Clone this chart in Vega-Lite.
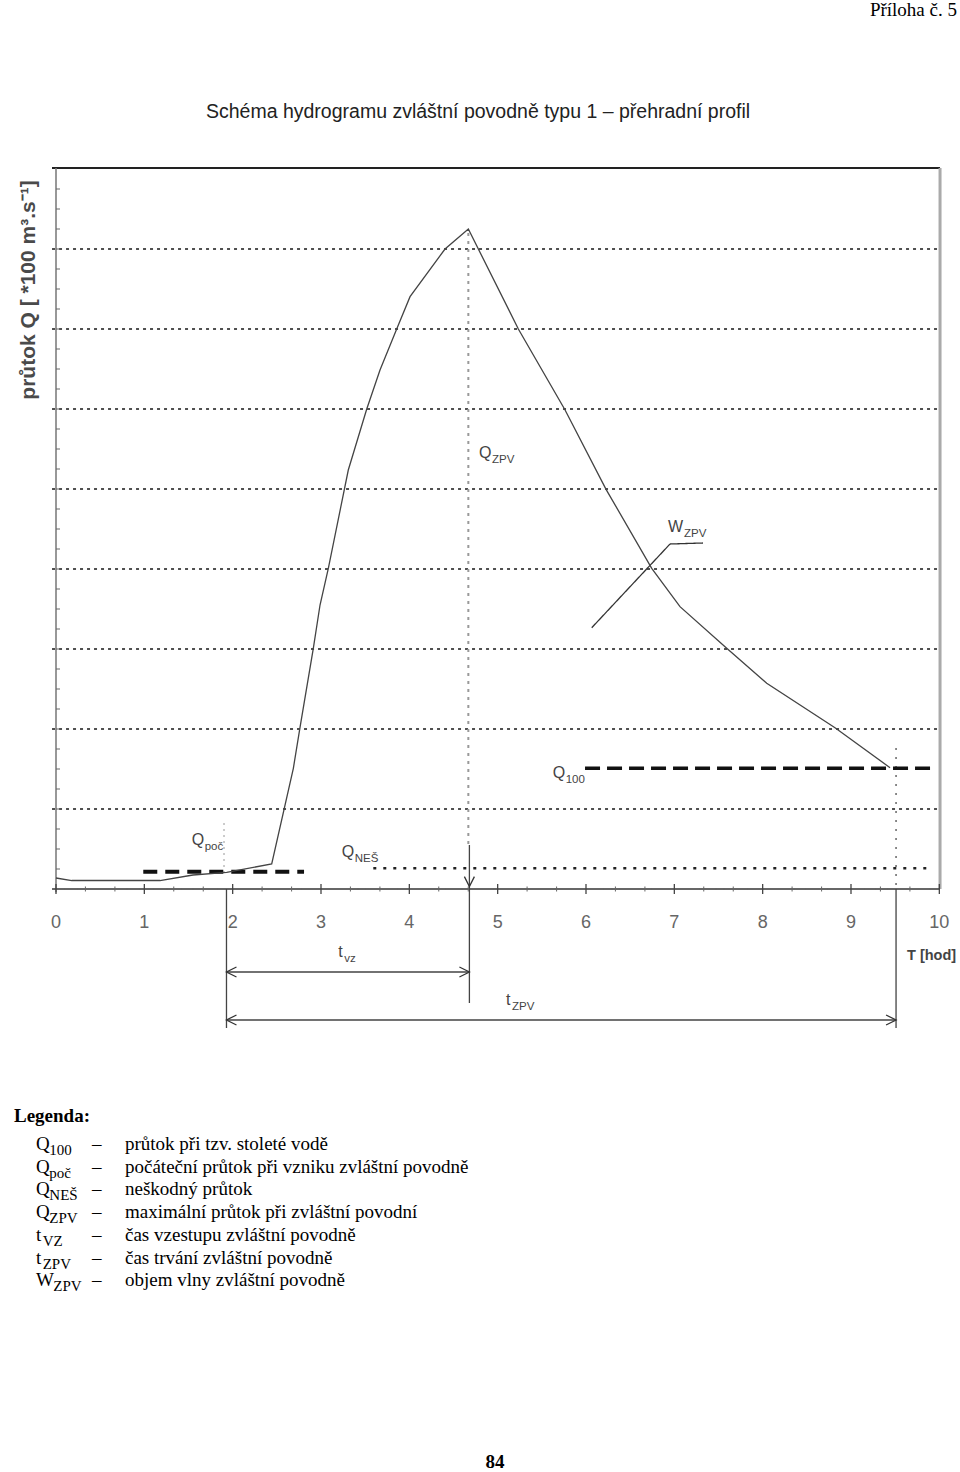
{
  "$schema": "https://vega.github.io/schema/vega-lite/v6.json",
  "width": 960,
  "height": 1472,
  "autosize": {"type": "fit", "contains": "padding"},
  "padding": 0,
  "background": "white",
  "config": {"view": {"stroke": null}},
  "datasets": {
    "hydro": [
      {"t": 0, "q": 0.1375}, {"t": 0.178, "q": 0.106}, {"t": 1.177, "q": 0.106},
      {"t": 1.551, "q": 0.175}, {"t": 1.932, "q": 0.209}, {"t": 2.442, "q": 0.3125},
      {"t": 2.687, "q": 1.509}, {"t": 2.762, "q": 2.016}, {"t": 2.913, "q": 3.009},
      {"t": 2.989, "q": 3.55}, {"t": 3.083, "q": 4.009}, {"t": 3.309, "q": 5.2375},
      {"t": 3.517, "q": 5.996}, {"t": 3.668, "q": 6.4875}, {"t": 3.857, "q": 7.0},
      {"t": 4.008, "q": 7.404}, {"t": 4.404, "q": 8.0}, {"t": 4.668, "q": 8.25},
      {"t": 5.234, "q": 7.0}, {"t": 5.763, "q": 5.9875}, {"t": 6.227, "q": 4.996},
      {"t": 6.744, "q": 4.009}, {"t": 7.064, "q": 3.529}, {"t": 7.593, "q": 3.009},
      {"t": 8.046, "q": 2.571}, {"t": 8.819, "q": 2.016}, {"t": 9.442, "q": 1.516}
    ],
    "segments": [
      {"kind": "grid", "t0": -0.045, "q0": 1, "t1": 9.99, "q1": 1},
      {"kind": "grid", "t0": -0.045, "q0": 2, "t1": 9.99, "q1": 2},
      {"kind": "grid", "t0": -0.045, "q0": 3, "t1": 9.99, "q1": 3},
      {"kind": "grid", "t0": -0.045, "q0": 4, "t1": 9.99, "q1": 4},
      {"kind": "grid", "t0": -0.045, "q0": 5, "t1": 9.99, "q1": 5},
      {"kind": "grid", "t0": -0.045, "q0": 6, "t1": 9.99, "q1": 6},
      {"kind": "grid", "t0": -0.045, "q0": 7, "t1": 9.99, "q1": 7},
      {"kind": "grid", "t0": -0.045, "q0": 8, "t1": 9.99, "q1": 8},
      {"kind": "frameTop", "t0": -0.045, "q0": 9.0125, "t1": 10.008, "q1": 9.0125},
      {"kind": "frameRight", "t0": 10.008, "q0": 9.0125, "t1": 10.008, "q1": 0},
      {"kind": "axisY", "t0": 0, "q0": 9.0125, "t1": 0, "q1": -0.04},
      {"kind": "axisX", "t0": -0.045, "q0": 0, "t1": 10.008, "q1": 0},
      {"kind": "peakDot", "t0": 4.668, "q0": 8.2, "t1": 4.668, "q1": 0.55},
      {"kind": "rightDot", "t0": 9.51, "q0": 1.7625, "t1": 9.51, "q1": 0},
      {"kind": "pocDot", "t0": 1.902, "q0": 0.825, "t1": 1.902, "q1": 0.15},
      {"kind": "guide", "t0": 4.68, "q0": 0.55, "t1": 4.68, "q1": -1.425},
      {"kind": "guide", "t0": 1.93, "q0": 0, "t1": 1.93, "q1": -1.7375},
      {"kind": "guide", "t0": 9.51, "q0": 0, "t1": 9.51, "q1": -1.7375},
      {"kind": "guide", "t0": 1.93, "q0": -1.0375, "t1": 4.68, "q1": -1.0375},
      {"kind": "guide", "t0": 1.93, "q0": -1.6375, "t1": 9.51, "q1": -1.6375},
      {"kind": "leader", "t0": 6.065, "q0": 3.266, "t1": 6.951, "q1": 4.3125},
      {"kind": "leader", "t0": 6.951, "q0": 4.3125, "t1": 7.325, "q1": 4.325},
      {"kind": "q100", "t0": 5.989, "q0": 1.509, "t1": 9.914, "q1": 1.509},
      {"kind": "qpoc", "t0": 0.988, "q0": 0.216, "t1": 2.808, "q1": 0.216},
      {"kind": "qnes", "t0": 3.592, "q0": 0.259, "t1": 9.929, "q1": 0.259}
    ],
    "arrows": [
      {"t": 1.93, "q": -1.0375, "dir": "left"},
      {"t": 4.68, "q": -1.0375, "dir": "right"},
      {"t": 1.93, "q": -1.6375, "dir": "left"},
      {"t": 9.51, "q": -1.6375, "dir": "right"},
      {"t": 4.68, "q": 0.03, "dir": "down"}
    ],
    "xticks": [
      {"t": 0, "label": "0"}, {"t": 1, "label": "1"}, {"t": 2, "label": "2"}, {"t": 3, "label": "3"},
      {"t": 4, "label": "4"}, {"t": 5, "label": "5"}, {"t": 6, "label": "6"}, {"t": 7, "label": "7"},
      {"t": 8, "label": "8"}, {"t": 9, "label": "9"}, {"t": 10, "label": "10"}
    ],
    "minor": [
      {"t": 0.333}, {"t": 0.667}, {"t": 1.333}, {"t": 1.667}, {"t": 2.333}, {"t": 2.667},
      {"t": 3.333}, {"t": 3.667}, {"t": 4.333}, {"t": 4.667}, {"t": 5.333}, {"t": 5.667},
      {"t": 6.333}, {"t": 6.667}, {"t": 7.333}, {"t": 7.667}, {"t": 8.333}, {"t": 8.667},
      {"t": 9.333}, {"t": 9.667}
    ],
    "yticks": [
      {"q": 0.25}, {"q": 0.5}, {"q": 0.75}, {"q": 1}, {"q": 1.25}, {"q": 1.5}, {"q": 1.75}, {"q": 2},
      {"q": 2.25}, {"q": 2.5}, {"q": 2.75}, {"q": 3}, {"q": 3.25}, {"q": 3.5}, {"q": 3.75}, {"q": 4},
      {"q": 4.25}, {"q": 4.5}, {"q": 4.75}, {"q": 5}, {"q": 5.25}, {"q": 5.5}, {"q": 5.75}, {"q": 6},
      {"q": 6.25}, {"q": 6.5}, {"q": 6.75}, {"q": 7}, {"q": 7.25}, {"q": 7.5}, {"q": 7.75}, {"q": 8},
      {"q": 8.25}, {"q": 8.5}, {"q": 8.75}
    ],
    "notes": [
      {"main": "Q", "sub": "ZPV", "t": 4.789, "ts": 4.936, "q": 5.3875},
      {"main": "W", "sub": "ZPV", "t": 6.928, "ts": 7.11, "q": 4.4625},
      {"main": "Q", "sub": "100", "t": 5.623, "ts": 5.77, "q": 1.3875},
      {"main": "Q", "sub": "poč", "t": 1.536, "ts": 1.683, "q": 0.55},
      {"main": "Q", "sub": "NEŠ", "t": 3.234, "ts": 3.382, "q": 0.404},
      {"main": "t", "sub": "vz", "t": 3.196, "ts": 3.264, "q": -0.846},
      {"main": "t", "sub": "ZPV", "t": 5.094, "ts": 5.162, "q": -1.45}
    ],
    "legend": [
      {"sym": "Q", "sub": "100", "desc": "průtok při tzv. stoleté vodě", "q": -3.2625, "st": -0.0759},
      {"sym": "Q", "sub": "poč", "desc": "počáteční průtok při vzniku zvláštní povodně", "q": -3.54625, "st": -0.0759},
      {"sym": "Q", "sub": "NEŠ", "desc": "neškodný průtok", "q": -3.83, "st": -0.0759},
      {"sym": "Q", "sub": "ZPV", "desc": "maximální průtok při zvláštní povodní", "q": -4.11375, "st": -0.0759},
      {"sym": "t", "sub": "VZ", "desc": "čas vzestupu zvláštní povodně", "q": -4.3975, "st": -0.1506},
      {"sym": "t", "sub": "ZPV", "desc": "čas trvání zvláštní povodně", "q": -4.68125, "st": -0.1506},
      {"sym": "W", "sub": "ZPV", "desc": "objem vlny zvláštní povodně", "q": -4.965, "st": -0.0306}
    ]
  },
  "layer": [
    {
      "data": {"name": "segments"},
      "mark": {"type": "rule"},
      "encoding": {
        "x": {"field": "t0", "type": "quantitative", "scale": {"domain": [-0.634, 10.234], "nice": false, "zero": false}, "axis": null},
        "x2": {"field": "t1"},
        "y": {"field": "q0", "type": "quantitative", "scale": {"domain": [-7.2875, 11.1125], "nice": false, "zero": false}, "axis": null},
        "y2": {"field": "q1"},
        "color": {"field": "kind", "type": "nominal", "legend": null,
          "scale": {"domain": ["grid", "frameTop", "frameRight", "axisY", "axisX", "peakDot", "rightDot", "pocDot", "guide", "leader", "q100", "qpoc", "qnes"],
                    "range": ["#505050", "#222222", "#aaaaaa", "#777777", "#333333", "#999999", "#666666", "#bbbbbb", "#444444", "#333333", "#111111", "#111111", "#222222"]}},
        "strokeDash": {"field": "kind", "type": "nominal", "legend": null,
          "scale": {"domain": ["grid", "frameTop", "frameRight", "axisY", "axisX", "peakDot", "rightDot", "pocDot", "guide", "leader", "q100", "qpoc", "qnes"],
                    "range": [[3, 4], [1, 0], [1, 0], [1, 0], [1, 0], [3, 5], [2, 7], [2, 4], [1, 0], [1, 0], [15, 7], [14, 8], [3, 7]]}},
        "strokeWidth": {
          "condition": [
            {"test": "datum.kind === 'q100'", "value": 3.5},
            {"test": "datum.kind === 'qpoc'", "value": 4},
            {"test": "datum.kind === 'qnes'", "value": 2.5},
            {"test": "datum.kind === 'frameRight'", "value": 3},
            {"test": "datum.kind === 'grid' || datum.kind === 'frameTop' || datum.kind === 'peakDot'", "value": 2},
            {"test": "datum.kind === 'axisY' || datum.kind === 'axisX' || datum.kind === 'rightDot' || datum.kind === 'pocDot'", "value": 1.5}
          ],
          "value": 1.3
        }
      }
    },
    {
      "data": {"name": "hydro"},
      "mark": {"type": "line", "color": "#444444", "strokeWidth": 1.3},
      "encoding": {
        "x": {"field": "t", "type": "quantitative", "scale": {"domain": [-0.634, 10.234], "nice": false, "zero": false}, "axis": null},
        "y": {"field": "q", "type": "quantitative", "scale": {"domain": [-7.2875, 11.1125], "nice": false, "zero": false}, "axis": null}
      }
    },
    {
      "data": {"name": "xticks"},
      "mark": {"type": "tick", "orient": "vertical", "size": 10, "thickness": 1.3, "color": "#444444", "opacity": 1},
      "encoding": {
        "x": {"field": "t", "type": "quantitative", "scale": {"domain": [-0.634, 10.234], "nice": false, "zero": false}, "axis": null},
        "y": {"datum": 0, "type": "quantitative", "scale": {"domain": [-7.2875, 11.1125], "nice": false, "zero": false}, "axis": null}
      }
    },
    {
      "data": {"name": "xticks"},
      "mark": {"type": "text", "font": "Liberation Sans", "fontSize": 18, "color": "#666666", "align": "center", "baseline": "alphabetic"},
      "encoding": {
        "x": {"field": "t", "type": "quantitative", "scale": {"domain": [-0.634, 10.234], "nice": false, "zero": false}, "axis": null},
        "y": {"datum": -0.48125, "type": "quantitative", "scale": {"domain": [-7.2875, 11.1125], "nice": false, "zero": false}, "axis": null},
        "text": {"field": "label"}
      }
    },
    {
      "data": {"name": "minor"},
      "mark": {"type": "tick", "orient": "vertical", "size": 5, "thickness": 1, "color": "#666666", "opacity": 1},
      "encoding": {
        "x": {"field": "t", "type": "quantitative", "scale": {"domain": [-0.634, 10.234], "nice": false, "zero": false}, "axis": null},
        "y": {"datum": 0, "type": "quantitative", "scale": {"domain": [-7.2875, 11.1125], "nice": false, "zero": false}, "axis": null}
      }
    },
    {
      "data": {"name": "yticks"},
      "mark": {"type": "tick", "orient": "horizontal", "size": 4, "thickness": 1, "color": "#666666", "opacity": 1},
      "encoding": {
        "x": {"datum": 0.0226, "type": "quantitative", "scale": {"domain": [-0.634, 10.234], "nice": false, "zero": false}, "axis": null},
        "y": {"field": "q", "type": "quantitative", "scale": {"domain": [-7.2875, 11.1125], "nice": false, "zero": false}, "axis": null}
      }
    },
    {
      "data": {"name": "arrows"},
      "mark": {"type": "point", "filled": false, "color": "#333333", "strokeWidth": 1.3, "size": 100, "opacity": 1},
      "encoding": {
        "x": {"field": "t", "type": "quantitative", "scale": {"domain": [-0.634, 10.234], "nice": false, "zero": false}, "axis": null},
        "y": {"field": "q", "type": "quantitative", "scale": {"domain": [-7.2875, 11.1125], "nice": false, "zero": false}, "axis": null},
        "shape": {"field": "dir", "type": "nominal", "legend": null,
          "scale": {"domain": ["left", "right", "down"], "range": ["M 2 -1 L 0 0 L 2 1", "M -2 -1 L 0 0 L -2 1", "M -1 -2 L 0 0 L 1 -2"]}}
      }
    },
    {
      "data": {"name": "notes"},
      "mark": {"type": "text", "font": "Liberation Sans", "fontSize": 16, "color": "#444444", "align": "left", "baseline": "alphabetic"},
      "encoding": {
        "x": {"field": "t", "type": "quantitative", "scale": {"domain": [-0.634, 10.234], "nice": false, "zero": false}, "axis": null},
        "y": {"field": "q", "type": "quantitative", "scale": {"domain": [-7.2875, 11.1125], "nice": false, "zero": false}, "axis": null},
        "text": {"field": "main"}
      }
    },
    {
      "data": {"name": "notes"},
      "mark": {"type": "text", "font": "Liberation Sans", "fontSize": 11.5, "color": "#444444", "align": "left", "baseline": "alphabetic", "dy": 5},
      "encoding": {
        "x": {"field": "ts", "type": "quantitative", "scale": {"domain": [-0.634, 10.234], "nice": false, "zero": false}, "axis": null},
        "y": {"field": "q", "type": "quantitative", "scale": {"domain": [-7.2875, 11.1125], "nice": false, "zero": false}, "axis": null},
        "text": {"field": "sub"}
      }
    },
    {
      "data": {"values": [{"label": "Schéma hydrogramu zvláštní povodně typu 1 – přehradní profil", "t": 4.778, "q": 9.6375}]},
      "mark": {"type": "text", "font": "Liberation Sans", "fontSize": 19.5, "color": "#222222", "align": "center", "baseline": "alphabetic"},
      "encoding": {
        "x": {"field": "t", "type": "quantitative", "scale": {"domain": [-0.634, 10.234], "nice": false, "zero": false}, "axis": null},
        "y": {"field": "q", "type": "quantitative", "scale": {"domain": [-7.2875, 11.1125], "nice": false, "zero": false}, "axis": null},
        "text": {"field": "label"}
      }
    },
    {
      "data": {"values": [{"label": "průtok   Q  [ *100  m³.s⁻¹]", "t": -0.3057, "q": 7.4875}]},
      "mark": {"type": "text", "font": "Liberation Sans", "fontSize": 21, "fontWeight": "bold", "color": "#4a4a4a", "align": "center", "baseline": "middle", "angle": 270},
      "encoding": {
        "x": {"field": "t", "type": "quantitative", "scale": {"domain": [-0.634, 10.234], "nice": false, "zero": false}, "axis": null},
        "y": {"field": "q", "type": "quantitative", "scale": {"domain": [-7.2875, 11.1125], "nice": false, "zero": false}, "axis": null},
        "text": {"field": "label"}
      }
    },
    {
      "data": {"values": [{"label": "T [hod]", "t": 9.634, "q": -0.8875}]},
      "mark": {"type": "text", "font": "Liberation Sans", "fontSize": 14.5, "fontWeight": "bold", "color": "#444444", "align": "left", "baseline": "alphabetic"},
      "encoding": {
        "x": {"field": "t", "type": "quantitative", "scale": {"domain": [-0.634, 10.234], "nice": false, "zero": false}, "axis": null},
        "y": {"field": "q", "type": "quantitative", "scale": {"domain": [-7.2875, 11.1125], "nice": false, "zero": false}, "axis": null},
        "text": {"field": "label"}
      }
    },
    {
      "data": {"values": [{"label": "Příloha č. 5", "t": 10.2, "q": 10.9125}]},
      "mark": {"type": "text", "font": "Liberation Serif", "fontSize": 19, "color": "#000000", "align": "right", "baseline": "alphabetic"},
      "encoding": {
        "x": {"field": "t", "type": "quantitative", "scale": {"domain": [-0.634, 10.234], "nice": false, "zero": false}, "axis": null},
        "y": {"field": "q", "type": "quantitative", "scale": {"domain": [-7.2875, 11.1125], "nice": false, "zero": false}, "axis": null},
        "text": {"field": "label"}
      }
    },
    {
      "data": {"values": [{"label": "84", "t": 4.862, "q": -7.2375}, {"label": "Legenda:", "t": -0.4755, "q": -2.90875}]},
      "mark": {"type": "text", "font": "Liberation Serif", "fontSize": 19, "fontWeight": "bold", "color": "#000000", "align": "left", "baseline": "alphabetic"},
      "encoding": {
        "x": {"field": "t", "type": "quantitative", "scale": {"domain": [-0.634, 10.234], "nice": false, "zero": false}, "axis": null},
        "y": {"field": "q", "type": "quantitative", "scale": {"domain": [-7.2875, 11.1125], "nice": false, "zero": false}, "axis": null},
        "text": {"field": "label"}
      }
    },
    {
      "data": {"name": "legend"},
      "mark": {"type": "text", "font": "Liberation Serif", "fontSize": 19, "color": "#000000", "align": "left", "baseline": "alphabetic"},
      "encoding": {
        "x": {"datum": -0.2264, "type": "quantitative", "scale": {"domain": [-0.634, 10.234], "nice": false, "zero": false}, "axis": null},
        "y": {"field": "q", "type": "quantitative", "scale": {"domain": [-7.2875, 11.1125], "nice": false, "zero": false}, "axis": null},
        "text": {"field": "sym"}
      }
    },
    {
      "data": {"name": "legend"},
      "mark": {"type": "text", "font": "Liberation Serif", "fontSize": 15, "color": "#000000", "align": "left", "baseline": "alphabetic", "dy": 5},
      "encoding": {
        "x": {"field": "st", "type": "quantitative", "scale": {"domain": [-0.634, 10.234], "nice": false, "zero": false}, "axis": null},
        "y": {"field": "q", "type": "quantitative", "scale": {"domain": [-7.2875, 11.1125], "nice": false, "zero": false}, "axis": null},
        "text": {"field": "sub"}
      }
    },
    {
      "data": {"name": "legend"},
      "mark": {"type": "text", "font": "Liberation Serif", "fontSize": 19, "color": "#000000", "align": "left", "baseline": "alphabetic", "text": "–"},
      "encoding": {
        "x": {"datum": 0.4076, "type": "quantitative", "scale": {"domain": [-0.634, 10.234], "nice": false, "zero": false}, "axis": null},
        "y": {"field": "q", "type": "quantitative", "scale": {"domain": [-7.2875, 11.1125], "nice": false, "zero": false}, "axis": null}
      }
    },
    {
      "data": {"name": "legend"},
      "mark": {"type": "text", "font": "Liberation Serif", "fontSize": 19, "color": "#000000", "align": "left", "baseline": "alphabetic"},
      "encoding": {
        "x": {"datum": 0.7812, "type": "quantitative", "scale": {"domain": [-0.634, 10.234], "nice": false, "zero": false}, "axis": null},
        "y": {"field": "q", "type": "quantitative", "scale": {"domain": [-7.2875, 11.1125], "nice": false, "zero": false}, "axis": null},
        "text": {"field": "desc"}
      }
    }
  ]
}
